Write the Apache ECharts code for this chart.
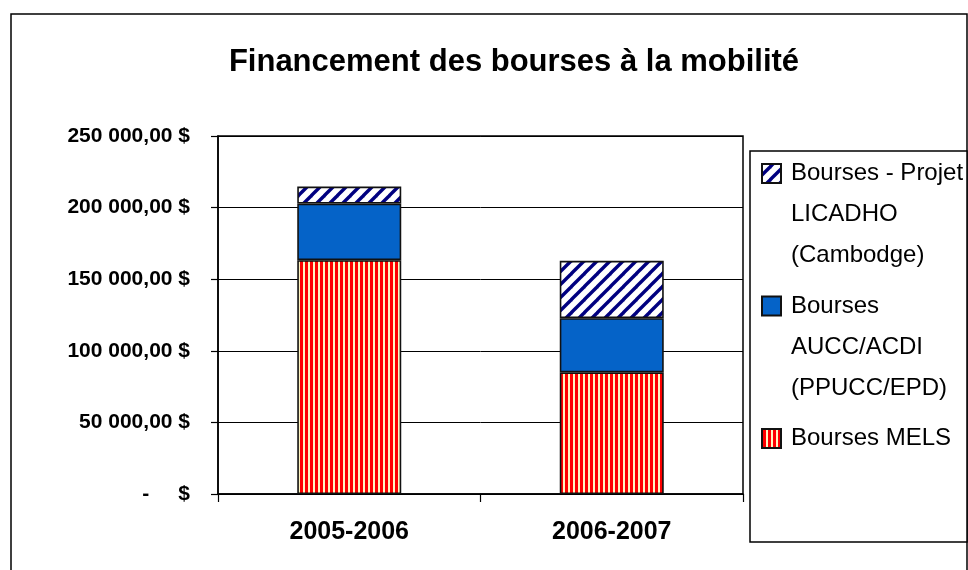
<!DOCTYPE html>
<html>
<head>
<meta charset="utf-8">
<script src="https://cdn.jsdelivr.net/npm/echarts@6/dist/echarts.min.js"></script>
<style>html,body{margin:0;padding:0;background:#fff;}#c{width:968px;height:570px;}</style>
</head>
<body>
<div id="c"></div>
<script>
const categories = ['2005-2006', '2006-2007'];
const melsValues = [163300, 85000];
const auccValues = [39500, 37800];
const licadhoValues = [11900, 40000];
const seriesNames = ['Bourses MELS', 'Bourses AUCC/ACDI (PPUCC/EPD)', 'Bourses - Projet LICADHO (Cambodge)'];
const legendLabels = {
  'Bourses - Projet LICADHO (Cambodge)': 'Bourses - Projet\nLICADHO\n(Cambodge)',
  'Bourses AUCC/ACDI (PPUCC/EPD)': 'Bourses\nAUCC/ACDI\n(PPUCC/EPD)',
  'Bourses MELS': 'Bourses MELS\n\n'
};
const titleText = 'Financement des bourses à la mobilité';

function hatchPattern() {
  const s = 13;
  const c = document.createElement('canvas');
  c.width = s; c.height = s;
  const ctx = c.getContext('2d');
  ctx.fillStyle = '#ffffff';
  ctx.fillRect(0, 0, s, s);
  ctx.strokeStyle = '#000080';
  ctx.lineWidth = 3.4;
  for (const o of [-s, 0, s]) {
    ctx.beginPath();
    ctx.moveTo(o - 1, s + 1);
    ctx.lineTo(o + s + 1, -1);
    ctx.stroke();
  }
  return { image: c, repeat: 'repeat' };
}
function stripePattern() {
  const c = document.createElement('canvas');
  c.width = 5; c.height = 4;
  const ctx = c.getContext('2d');
  ctx.fillStyle = '#FFF5C0';
  ctx.fillRect(0, 0, 5, 4);
  ctx.fillStyle = '#FF0000';
  ctx.fillRect(0, 0, 3, 4);
  return { image: c, repeat: 'repeat' };
}

function fmt(v) {
  if (v === 0) return '-     $';
  const s = String(Math.round(v)).replace(/\B(?=(\d{3})+(?!\d))/g, ' ');
  return s + ',00 $';
}

const FONT = "'Liberation Sans', Arial, sans-serif";
const border = { borderColor: '#111', borderWidth: 1.6 };
const iconPath = 'path://M0,0M28,123M4,11h19v19h-19z';

const chart = echarts.init(document.getElementById('c'), null, { renderer: 'canvas' });
chart.setOption({
  backgroundColor: '#ffffff',
  animation: false,
  title: {
    text: titleText,
    left: 509,
    top: 42,
    textAlign: 'center',
    textStyle: { fontFamily: FONT, fontWeight: 'bold', fontSize: 31, color: '#000' }
  },
  graphic: [
    { type: 'rect', shape: { x: 11, y: 14, width: 956, height: 620 }, style: { fill: 'none', stroke: '#000', lineWidth: 1.5 }, silent: true, z: -1 },
    { type: 'rect', shape: { x: 750, y: 151, width: 217, height: 391 }, style: { fill: '#fff', stroke: '#000', lineWidth: 1.5 }, silent: true, z: -1 }
  ],
  legend: {
    orient: 'vertical',
    left: 757,
    top: 152,
    padding: 0,
    itemGap: 7.5,
    itemWidth: 28,
    itemHeight: 123,
    selectedMode: false,
    data: [seriesNames[2], seriesNames[1], seriesNames[0]].map(n => ({ name: n, icon: iconPath })),
    formatter: n => legendLabels[n],
    textStyle: { fontFamily: FONT, fontSize: 24, lineHeight: 41, color: '#000' }
  },
  grid: {
    left: 218, right: 225, top: 136, bottom: 76,
    show: true, borderColor: '#000', borderWidth: 1.5, backgroundColor: 'transparent'
  },
  xAxis: {
    type: 'category',
    data: categories,
    axisLine: { lineStyle: { color: '#000', width: 1.5 } },
    axisTick: { show: true, length: 8, lineStyle: { color: '#000', width: 1.2 } },
    axisLabel: { margin: 26, fontFamily: FONT, fontWeight: 'bold', fontSize: 25, color: '#000' }
  },
  yAxis: {
    type: 'value',
    min: 0, max: 250000, interval: 50000,
    axisLine: { show: true, lineStyle: { color: '#000', width: 1.5 } },
    axisTick: { show: true, length: 7, lineStyle: { color: '#000', width: 1.2 } },
    splitLine: { show: true, lineStyle: { color: '#000', width: 1 } },
    axisLabel: { margin: 28, formatter: fmt, fontFamily: FONT, fontWeight: 'bold', fontSize: 21, color: '#000' }
  },
  series: [
    { name: seriesNames[0], type: 'bar', stack: 'total', barWidth: 104, data: melsValues, itemStyle: Object.assign({ color: stripePattern() }, border) },
    { name: seriesNames[1], type: 'bar', stack: 'total', barWidth: 104, data: auccValues, itemStyle: Object.assign({ color: '#0563C8' }, border) },
    { name: seriesNames[2], type: 'bar', stack: 'total', barWidth: 104, data: licadhoValues, itemStyle: Object.assign({ color: hatchPattern() }, border) }
  ]
});
</script>
</body>
</html>
